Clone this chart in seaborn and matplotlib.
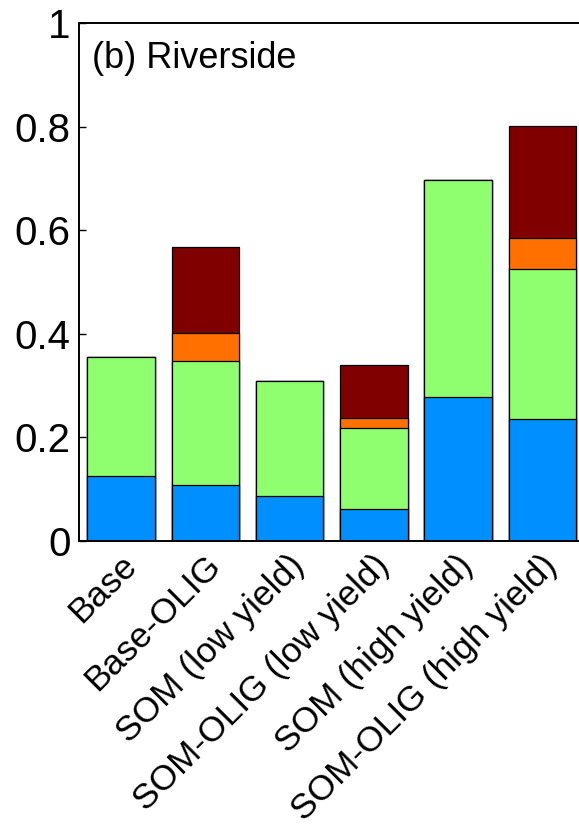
import matplotlib
matplotlib.use("Agg")
import matplotlib.pyplot as plt
import matplotlib.transforms as mtransforms
import seaborn as sns
import numpy as np
import pandas as pd

scenarios = ["Base", "Base-OLIG", "SOM (low yield)", "SOM-OLIG (low yield)",
             "SOM (high yield)", "SOM-OLIG (high yield)"]
blue_part = [0.126, 0.108, 0.087, 0.062, 0.278, 0.235]
green_part = [0.229, 0.239, 0.221, 0.156, 0.419, 0.291]
orange_part = [0.0, 0.055, 0.0, 0.020, 0.0, 0.058]
darkred_part = [0.0, 0.165, 0.0, 0.102, 0.0, 0.218]
y_ticks = [0, 0.2, 0.4, 0.6, 0.8, 1]
y_tick_labels = ["0", "0.2", "0.4", "0.6", "0.8", "1"]
panel_label = "(b) Riverside"

layer_colors = ["#008FFF", "#8FFF70", "#FF7000", "#800000"]

sns.set_theme(style="white", rc={"text.color": "black",
                                 "xtick.color": "black",
                                 "ytick.color": "black",
                                 "axes.edgecolor": "black"})
plt.rcParams["font.family"] = ["Liberation Sans", "DejaVu Sans"]

fig = plt.figure(figsize=(5.79, 8.3), dpi=100)
W, H = 579, 830
left_px, right_px, top_px, bottom_px = 79, 584.5, 23, 541
ax = fig.add_axes([left_px / W, (H - bottom_px) / H,
                   (right_px - left_px) / W, (bottom_px - top_px) / H])

# cumulative stacks, drawn tallest first so each layer overlays the previous
layers = [blue_part, green_part, orange_part, darkred_part]
cum = np.cumsum(np.array(layers), axis=0)
for level in range(len(layers) - 1, -1, -1):
    df = pd.DataFrame({"scenario": scenarios, "value": cum[level]})
    sns.barplot(data=df, x="scenario", y="value", order=scenarios,
                color=layer_colors[level], saturation=1, width=0.8,
                edgecolor="black", linewidth=0.9, ax=ax)

ax.set_xlim(-0.5, 5.5)
ax.set_ylim(0, 1)
ax.set_xlabel("")
ax.set_ylabel("")

ax.set_yticks(y_ticks)
ax.set_yticklabels(y_tick_labels, fontsize=29)
ax.tick_params(axis="y", direction="in", length=5, width=1, pad=6,
               left=True, right=False, labelleft=True)

# scenario names: rotated text hanging below each bar
ax.set_xticks(range(len(scenarios)))
ax.tick_params(axis="x", which="major", length=0, labelbottom=False)
label_tf = ax.get_xaxis_transform() + mtransforms.ScaledTranslation(
    7.2 / 72, -14.0 / 72, fig.dpi_scale_trans)
for i, name in enumerate(scenarios):
    ax.text(i, 0, name, transform=label_tf, rotation=45,
            rotation_mode="anchor", ha="right", va="center", fontsize=25.5)

ax.set_xticks([1, 3, 5], minor=True)
ax.tick_params(axis="x", which="minor", direction="in", length=5,
               width=1, top=True, bottom=False)

for s in ax.spines.values():
    s.set_visible(True)
    s.set_color("black")
    s.set_linewidth(1.4)

ax.text(13 / (right_px - left_px), (bottom_px - 68) / (bottom_px - top_px),
        panel_label, transform=ax.transAxes, fontsize=26,
        ha="left", va="baseline")

fig.savefig("out.png", dpi=100, facecolor="white")
